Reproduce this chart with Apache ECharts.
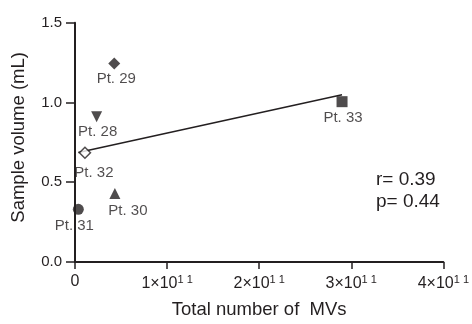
<!DOCTYPE html>
<html><head><meta charset="utf-8">
<script src="https://cdn.jsdelivr.net/npm/echarts@6/dist/echarts.min.js"></script>
<style>html,body{margin:0;padding:0;background:#fff}#c{width:472px;height:324px}</style>
</head><body><div id="c"></div>
<script>
// Data (x in units of 1e11 MVs, y in mL)
const ptLabels = ['Pt. 28', 'Pt. 29', 'Pt. 30', 'Pt. 31', 'Pt. 32', 'Pt. 33'];
const ptX = [0.235, 0.426, 0.433, 0.036, 0.108, 2.90];
const ptY = [0.91, 1.245, 0.43, 0.33, 0.685, 1.005];
const ptSymbols = ['triangle', 'diamond', 'triangle', 'circle', 'diamond', 'rect'];
const fitX = [0.036, 2.90];
const fitY = [0.687, 1.048];
const xTicks = [0, 1, 2, 3, 4];
const yTicks = [0.0, 0.5, 1.0, 1.5];
const statsText = ['r= 0.39', 'p= 0.44'];

const font = 'Liberation Sans, Arial, sans-serif';
const ink = '#231f20';

const symRot = [180, 0, 0, 0, 0, 0];
const symSize = [11, 12, 11, 11, 11, 11];
const hollow = [false, false, false, false, true, false];
const labelOffsets = [[1, 15], [2, 15], [13, 17], [-4, 17], [9, 20], [1, 16]];

const pointSeries = ptLabels.map((name, i) => ({
  type: 'scatter',
  name: name,
  data: [[ptX[i], ptY[i]]],
  symbol: ptSymbols[i],
  symbolRotate: symRot[i],
  symbolSize: symSize[i],
  z: 5,
  itemStyle: hollow[i]
    ? { color: '#fff', borderColor: ink, borderWidth: 1.5 }
    : { color: ink },
  label: {
    show: true,
    formatter: name,
    position: 'inside',
    offset: labelOffsets[i],
    color: ink,
    fontFamily: font,
    fontSize: 15
  },
  emphasis: { disabled: true }
}));

const chart = echarts.init(document.getElementById('c'), null, { renderer: 'canvas' });
chart.setOption({
  animation: false,
  backgroundColor: '#fff',
  grid: { left: 75, right: 28, top: 22.7, bottom: 56.7, containLabel: false },
  xAxis: {
    type: 'value', min: 0, max: 4, interval: 1,
    name: 'Total number of  MVs', nameLocation: 'middle', nameGap: 38,
    nameTextStyle: { fontFamily: font, fontSize: 18.5, color: ink },
    axisLine: { show: true, onZero: false, lineStyle: { color: ink, width: 2 } },
    axisTick: { show: true, length: 7, lineStyle: { color: ink, width: 1.5 } },
    splitLine: { show: false },
    axisLabel: {
      color: ink, fontFamily: font, fontSize: 16, margin: 12,
      formatter: v => v === 0 ? '{b|0}' : '{b|' + v + '×10}{s|1 1}',
      rich: {
        b: { fontFamily: font, fontSize: 16, color: ink },
        s: { fontFamily: font, fontSize: 11, color: ink, verticalAlign: 'bottom', padding: [0, 0, 8, 0] }
      }
    }
  },
  yAxis: {
    type: 'value', min: 0, max: 1.5, interval: 0.5,
    name: 'Sample volume (mL)', nameLocation: 'middle', nameGap: 47,
    nameTextStyle: { fontFamily: font, fontSize: 18.5, color: ink, padding: [0, 0, 0, 10] },
    axisLine: { show: true, onZero: false, lineStyle: { color: ink, width: 2 } },
    axisTick: { show: true, length: 9, lineStyle: { color: ink, width: 1.5 } },
    splitLine: { show: false },
    axisLabel: {
      color: ink, fontFamily: font, fontSize: 15, margin: 13,
      formatter: v => v.toFixed(1)
    }
  },
  graphic: statsText.map((t, i) => ({
    type: 'text', left: 376, top: 170 + i * 22,
    style: { text: t, fill: ink, font: '19px ' + font }
  })),
  series: [
    {
      type: 'line',
      data: fitX.map((x, i) => [x, fitY[i]]),
      symbol: 'none',
      lineStyle: { color: ink, width: 1.5 },
      z: 3,
      emphasis: { disabled: true }
    }
  ].concat(pointSeries)
});
</script>
</body></html>
